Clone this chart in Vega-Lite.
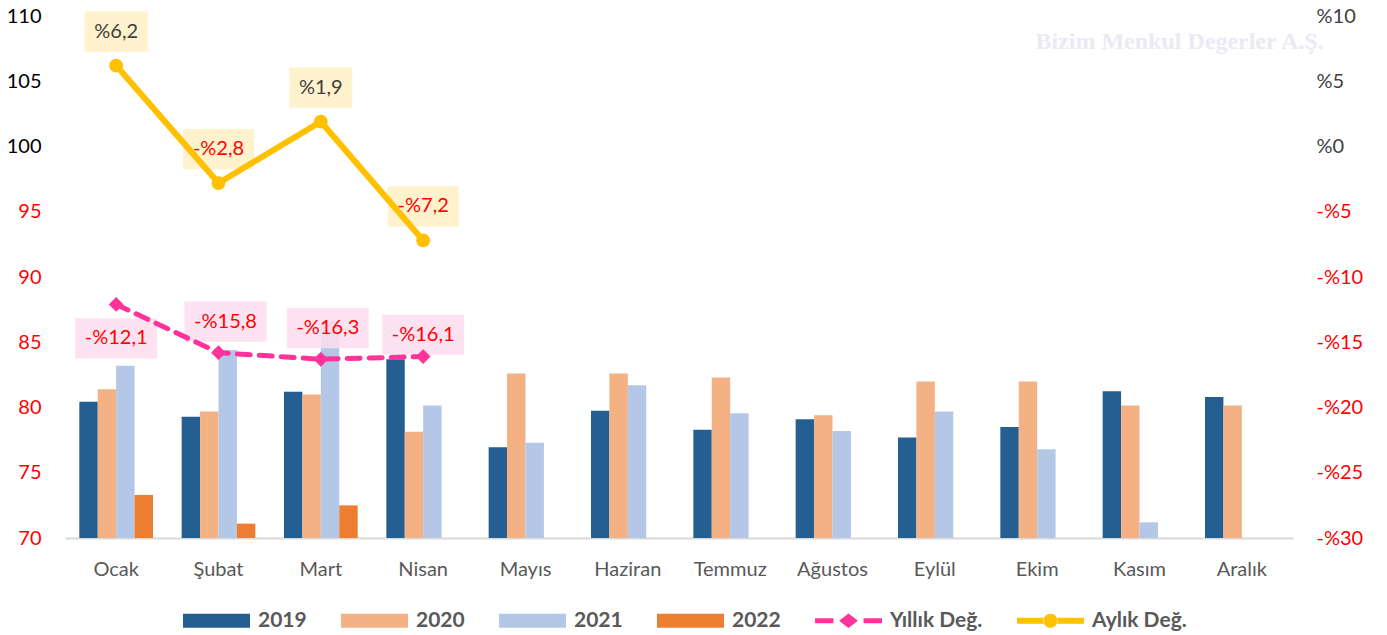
{
  "$schema": "https://vega.github.io/schema/vega-lite/v6.json",
  "width": 1228,
  "height": 522,
  "autosize": {"type": "none"},
  "padding": {"left": 65, "top": 16, "right": 94, "bottom": 97},
  "background": "white",
  "config": {"view": {"stroke": null}, "font": "Lato", "axis": {"grid": false, "ticks": false}},
  "datasets": {
    "bars": [
      {"month": "Ocak", "year": "2019", "value": 80.45},
      {"month": "Ocak", "year": "2020", "value": 81.4},
      {"month": "Ocak", "year": "2021", "value": 83.2},
      {"month": "Ocak", "year": "2022", "value": 73.3},
      {"month": "Şubat", "year": "2019", "value": 79.3},
      {"month": "Şubat", "year": "2020", "value": 79.7},
      {"month": "Şubat", "year": "2021", "value": 84.4},
      {"month": "Şubat", "year": "2022", "value": 71.1},
      {"month": "Mart", "year": "2019", "value": 81.2},
      {"month": "Mart", "year": "2020", "value": 81.0},
      {"month": "Mart", "year": "2021", "value": 86.6},
      {"month": "Mart", "year": "2022", "value": 72.5},
      {"month": "Nisan", "year": "2019", "value": 83.7},
      {"month": "Nisan", "year": "2020", "value": 78.15},
      {"month": "Nisan", "year": "2021", "value": 80.15},
      {"month": "Mayıs", "year": "2019", "value": 76.95},
      {"month": "Mayıs", "year": "2020", "value": 82.6},
      {"month": "Mayıs", "year": "2021", "value": 77.3},
      {"month": "Haziran", "year": "2019", "value": 79.75},
      {"month": "Haziran", "year": "2020", "value": 82.6},
      {"month": "Haziran", "year": "2021", "value": 81.7},
      {"month": "Temmuz", "year": "2019", "value": 78.3},
      {"month": "Temmuz", "year": "2020", "value": 82.3},
      {"month": "Temmuz", "year": "2021", "value": 79.55},
      {"month": "Ağustos", "year": "2019", "value": 79.1},
      {"month": "Ağustos", "year": "2020", "value": 79.4},
      {"month": "Ağustos", "year": "2021", "value": 78.2},
      {"month": "Eylül", "year": "2019", "value": 77.7},
      {"month": "Eylül", "year": "2020", "value": 82.0},
      {"month": "Eylül", "year": "2021", "value": 79.7},
      {"month": "Ekim", "year": "2019", "value": 78.5},
      {"month": "Ekim", "year": "2020", "value": 82.0},
      {"month": "Ekim", "year": "2021", "value": 76.8},
      {"month": "Kasım", "year": "2019", "value": 81.25},
      {"month": "Kasım", "year": "2020", "value": 80.15},
      {"month": "Kasım", "year": "2021", "value": 71.2},
      {"month": "Aralık", "year": "2019", "value": 80.8},
      {"month": "Aralık", "year": "2020", "value": 80.15}
    ],
    "chg": [
      {"month": "Ocak", "aylik": 6.2, "yillik": -12.1},
      {"month": "Şubat", "aylik": -2.8, "yillik": -15.8},
      {"month": "Mart", "aylik": 1.9, "yillik": -16.3},
      {"month": "Nisan", "aylik": -7.2, "yillik": -16.1}
    ]
  },
  "encoding": {
    "x": {
      "field": "month",
      "type": "nominal",
      "sort": ["Ocak", "Şubat", "Mart", "Nisan", "Mayıs", "Haziran", "Temmuz", "Ağustos", "Eylül", "Ekim", "Kasım", "Aralık"],
      "scale": {"domain": ["Ocak", "Şubat", "Mart", "Nisan", "Mayıs", "Haziran", "Temmuz", "Ağustos", "Eylül", "Ekim", "Kasım", "Aralık"], "paddingInner": 0.28, "paddingOuter": 0.14},
      "axis": {"title": null, "labelAngle": 0, "labelFontSize": 20, "labelColor": "#595959", "labelPadding": 21, "domainColor": "#D9D9D9", "domainWidth": 2, "ticks": false}
    }
  },
  "layer": [
    {
      "layer": [
        {
          "data": {"name": "bars"},
          "mark": {"type": "bar"},
          "encoding": {
            "xOffset": {"field": "year", "type": "nominal", "scale": {"domain": ["2019", "2020", "2021", "2022"], "paddingInner": 0}},
            "y": {
              "field": "value",
              "type": "quantitative",
              "scale": {"domain": [70, 110], "zero": false, "nice": false},
              "axis": {
                "title": null,
                "values": [70, 75, 80, 85, 90, 95, 100, 105, 110],
                "labelFontSize": 20,
                "labelPadding": 24,
                "domain": false,
                "ticks": false,
                "labelColor": {"condition": {"test": "datum.value >= 100", "value": "#000000"}, "value": "#FF0000"}
              }
            },
            "y2": {"datum": 70},
            "color": {
              "field": "year",
              "type": "nominal",
              "scale": {
                "domain": ["2019", "2020", "2021", "2022", "Yıllık Değ.", "Aylık Değ."],
                "range": ["#255E91", "#F4B183", "#B4C7E7", "#ED7D31", "#FF3399", "#FFC000"]
              },
              "legend": {
                "title": null,
                "orient": "none",
                "direction": "horizontal",
                "legendX": 118,
                "legendY": 571,
                "columnPadding": 34,
                "labelOffset": 8,
                "labelFont": "Lato",
                "labelFontWeight": "bold",
                "labelFontSize": 21,
                "labelColor": "#595959",
                "symbolSize": 4489,
                "symbolStrokeWidth": 0,
                "symbolType": "M-1,-0.21H1V0.21H-1Z",
                "symbolOpacity": 1,
                "encode": {
                  "symbols": {
                    "update": {
                      "shape": {"signal": "datum.value === 'Yıllık Değ.' ? 'M-1,-0.075H-0.45V0.075H-1Z M0,-0.22L0.28,0L0,0.22L-0.28,0Z M0.45,-0.075H1V0.075H0.45Z' : datum.value === 'Aylık Değ.' ? 'M-1,-0.09H-0.19V0.09H-1Z M0.19,-0.09H1V0.09H0.19Z M-0.21,0A0.21,0.21 0 1,0 0.21,0A0.21,0.21 0 1,0 -0.21,0Z' : 'M-1,-0.21H1V0.21H-1Z'"},
                      "fill": {"signal": "scale('color', datum.value)"},
                      "strokeWidth": {"value": 0},
                      "opacity": {"value": 1}
                    }
                  }
                }
              }
            }
          }
        },
        {
          "data": {"values": [{}]},
          "mark": {"type": "text", "font": "Liberation Serif", "fontWeight": "bold", "fontSize": 24, "color": "#EAEAF4", "xOffset": 40},
          "encoding": {
            "x": {"datum": "Kasım"},
            "y": {"datum": 108},
            "text": {"value": "Bizim Menkul Degerler A.Ş."}
          }
        }
      ]
    },
    {
      "data": {"name": "chg"},
      "transform": [
        {"calculate": "(datum.aylik < 0 ? '-%' : '%') + replace(format(abs(datum.aylik), '.1f'), '.', ',')", "as": "alab"},
        {"calculate": "(datum.yillik < 0 ? '-%' : '%') + replace(format(abs(datum.yillik), '.1f'), '.', ',')", "as": "ylab"}
      ],
      "layer": [
        {
          "mark": {"type": "point", "filled": true, "opacity": 0.85, "size": 6724, "strokeWidth": 0, "color": "#FFDDEE",
            "yOffset": {"expr": "datum.month === 'Ocak' ? 34 : (datum.month === 'Nisan' ? -22 : -31)"},
            "xOffset": {"expr": "(datum.month === 'Şubat' || datum.month === 'Mart') ? 7 : 0"}},
          "encoding": {
            "y": {
              "field": "yillik", "type": "quantitative",
              "scale": {"domain": [-30, 10], "zero": false, "nice": false},
              "axis": {"orient": "right", "title": null, "values": [-30, -25, -20, -15, -10, -5, 0, 5, 10], "labelExpr": "datum.value < 0 ? '-%' + abs(datum.value) : '%' + datum.value", "labelFontSize": 20, "labelPadding": 23, "domain": false, "ticks": false, "labelColor": {"condition": {"test": "datum.value < 0", "value": "#FF0000"}, "value": "#404040"}}
            },
            "shape": {"value": "M-1,-0.49H1V0.49H-1Z"}
          }
        },
        {
          "mark": {"type": "point", "filled": true, "opacity": 1, "size": 6724, "strokeWidth": 0, "color": "#FFF2CC", "yOffset": -34},
          "encoding": {
            "y": {"field": "aylik", "type": "quantitative", "scale": {"domain": [-30, 10], "zero": false, "nice": false},
              "axis": {"orient": "right", "title": null, "values": [-30, -25, -20, -15, -10, -5, 0, 5, 10], "labelExpr": "datum.value < 0 ? '-%' + abs(datum.value) : '%' + datum.value", "labelFontSize": 20, "labelPadding": 23, "domain": false, "ticks": false, "labelColor": {"condition": {"test": "datum.value < 0", "value": "#FF0000"}, "value": "#404040"}}},
            "shape": {
              "condition": {"test": "length(datum.alab) >= 5", "value": "M-0.866,-0.49H0.866V0.49H-0.866Z"},
              "value": "M-0.768,-0.49H0.768V0.49H-0.768Z"
            }
          }
        },
        {
          "mark": {"type": "line", "color": "#FF3399", "strokeWidth": 5, "strokeDash": [13, 9], "strokeCap": "round"},
          "encoding": {
            "y": {"field": "yillik", "type": "quantitative", "scale": {"domain": [-30, 10], "zero": false, "nice": false},
              "axis": {"orient": "right", "title": null, "values": [-30, -25, -20, -15, -10, -5, 0, 5, 10], "labelExpr": "datum.value < 0 ? '-%' + abs(datum.value) : '%' + datum.value", "labelFontSize": 20, "labelPadding": 23, "domain": false, "ticks": false, "labelColor": {"condition": {"test": "datum.value < 0", "value": "#FF0000"}, "value": "#404040"}}}
          }
        },
        {
          "mark": {"type": "point", "filled": true, "opacity": 1, "shape": "diamond", "size": 220, "color": "#FF3399"},
          "encoding": {
            "y": {"field": "yillik", "type": "quantitative", "scale": {"domain": [-30, 10], "zero": false, "nice": false},
              "axis": {"orient": "right", "title": null, "values": [-30, -25, -20, -15, -10, -5, 0, 5, 10], "labelExpr": "datum.value < 0 ? '-%' + abs(datum.value) : '%' + datum.value", "labelFontSize": 20, "labelPadding": 23, "domain": false, "ticks": false, "labelColor": {"condition": {"test": "datum.value < 0", "value": "#FF0000"}, "value": "#404040"}}}
          }
        },
        {
          "mark": {"type": "line", "color": "#FFC000", "strokeWidth": 6},
          "encoding": {
            "y": {"field": "aylik", "type": "quantitative", "scale": {"domain": [-30, 10], "zero": false, "nice": false},
              "axis": {"orient": "right", "title": null, "values": [-30, -25, -20, -15, -10, -5, 0, 5, 10], "labelExpr": "datum.value < 0 ? '-%' + abs(datum.value) : '%' + datum.value", "labelFontSize": 20, "labelPadding": 23, "domain": false, "ticks": false, "labelColor": {"condition": {"test": "datum.value < 0", "value": "#FF0000"}, "value": "#404040"}}}
          }
        },
        {
          "mark": {"type": "point", "filled": true, "opacity": 1, "shape": "circle", "size": 190, "color": "#FFC000"},
          "encoding": {
            "y": {"field": "aylik", "type": "quantitative", "scale": {"domain": [-30, 10], "zero": false, "nice": false},
              "axis": {"orient": "right", "title": null, "values": [-30, -25, -20, -15, -10, -5, 0, 5, 10], "labelExpr": "datum.value < 0 ? '-%' + abs(datum.value) : '%' + datum.value", "labelFontSize": 20, "labelPadding": 23, "domain": false, "ticks": false, "labelColor": {"condition": {"test": "datum.value < 0", "value": "#FF0000"}, "value": "#404040"}}}
          }
        },
        {
          "mark": {"type": "text", "fontSize": 20, "font": "Lato", "align": "center", "baseline": "middle",
            "yOffset": {"expr": "datum.month === 'Ocak' ? 34 : (datum.month === 'Nisan' ? -22 : -31)"},
            "xOffset": {"expr": "(datum.month === 'Şubat' || datum.month === 'Mart') ? 7 : 0"}},
          "encoding": {
            "y": {"field": "yillik", "type": "quantitative", "scale": {"domain": [-30, 10], "zero": false, "nice": false},
              "axis": {"orient": "right", "title": null, "values": [-30, -25, -20, -15, -10, -5, 0, 5, 10], "labelExpr": "datum.value < 0 ? '-%' + abs(datum.value) : '%' + datum.value", "labelFontSize": 20, "labelPadding": 23, "domain": false, "ticks": false, "labelColor": {"condition": {"test": "datum.value < 0", "value": "#FF0000"}, "value": "#404040"}}},
            "text": {"field": "ylab"},
            "color": {"value": "#FF0000"}
          }
        },
        {
          "mark": {"type": "text", "fontSize": 20, "font": "Lato", "align": "center", "baseline": "middle", "yOffset": -34},
          "encoding": {
            "y": {"field": "aylik", "type": "quantitative", "scale": {"domain": [-30, 10], "zero": false, "nice": false},
              "axis": {"orient": "right", "title": null, "values": [-30, -25, -20, -15, -10, -5, 0, 5, 10], "labelExpr": "datum.value < 0 ? '-%' + abs(datum.value) : '%' + datum.value", "labelFontSize": 20, "labelPadding": 23, "domain": false, "ticks": false, "labelColor": {"condition": {"test": "datum.value < 0", "value": "#FF0000"}, "value": "#404040"}}},
            "text": {"field": "alab"},
            "color": {"condition": {"test": "datum.aylik < 0", "value": "#FF0000"}, "value": "#404040"}
          }
        }
      ]
    }
  ],
  "resolve": {"scale": {"y": "independent"}}
}
